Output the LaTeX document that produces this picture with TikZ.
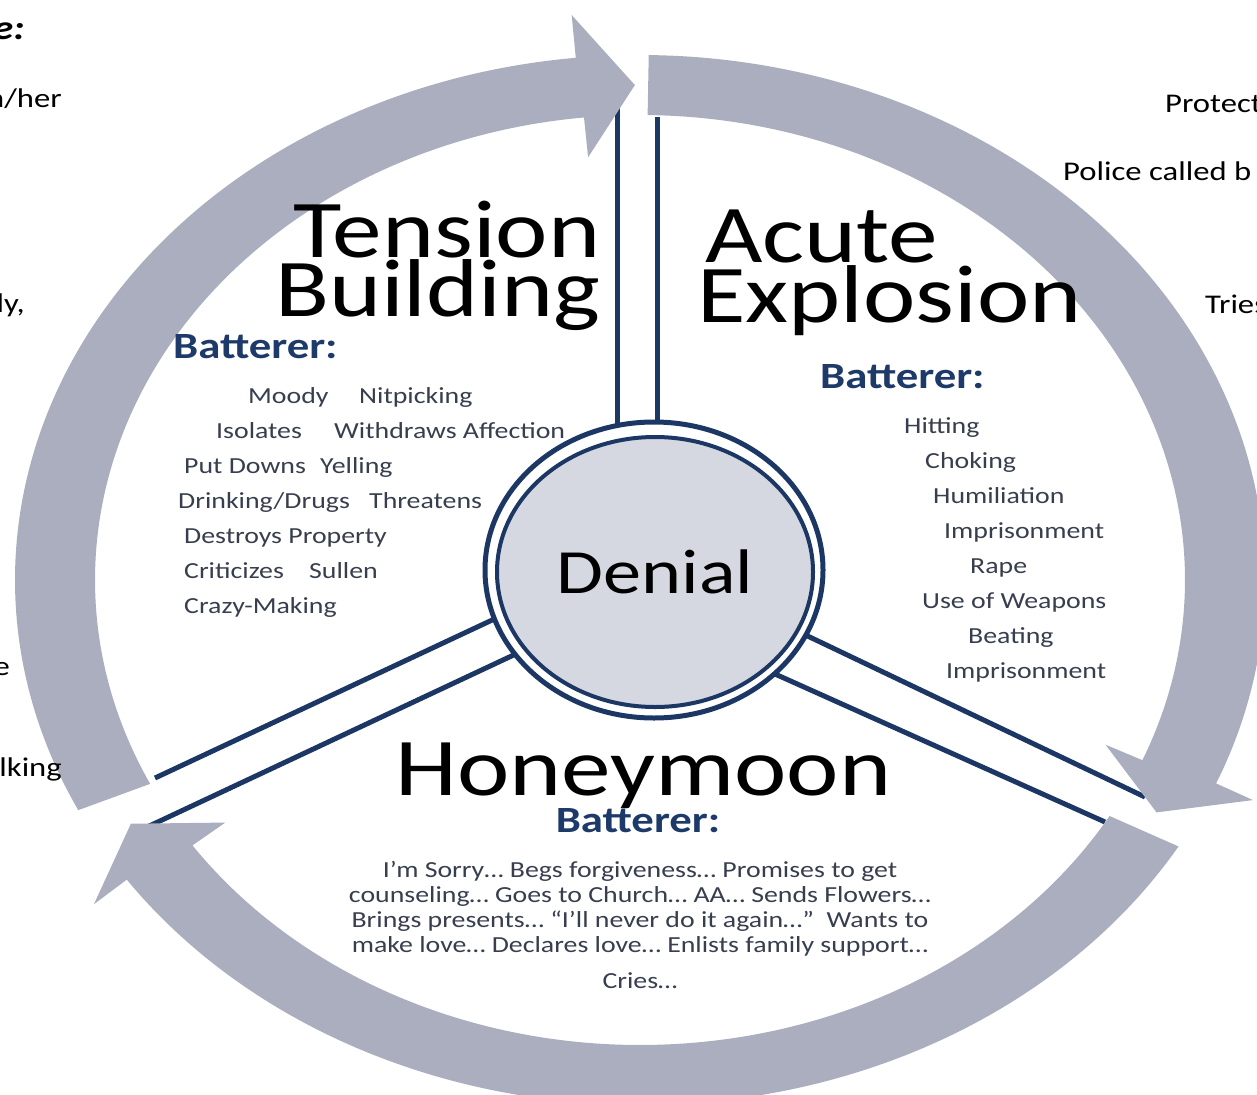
\documentclass[tikz,border=0pt]{standalone}
\usepackage{fontspec}
\setmainfont{Carlito}[FakeStretch=1.21]
\usetikzlibrary{shapes.geometric}

\definecolor{bandgray}{RGB}{170,174,190}
\definecolor{navy}{RGB}{28,55,100}
\definecolor{denialgray}{RGB}{213,216,224}
\definecolor{itemtext}{RGB}{55,62,78}
\definecolor{battblue}{RGB}{30,58,105}

\begin{document}
\begin{tikzpicture}[x=1pt,y=1pt,
    band/.style={fill=bandgray},
    divider/.style={draw=navy,line width=5pt},
    phase/.style={anchor=base west,inner sep=0pt,font=\fontsize{82}{58}\selectfont},
    batterer/.style={inner sep=0pt,text=battblue,font=\fontsize{37}{40}\selectfont\bfseries},
    item/.style={anchor=base west,inner sep=0pt,text=itemtext,font=\fontsize{23}{25}\selectfont},
    side/.style={inner sep=0pt,font=\fontsize{27}{30}\selectfont}]

  \useasboundingbox (0,0) rectangle (1257,-1094);
  % centre of the big cycle
  \coordinate (c) at (640,-580);

  % double lines splitting the three phases
  \coordinate (tb1) at (617,-97);
  \coordinate (tb2) at (617,-440);
  \coordinate (ae1) at (657,-117);
  \coordinate (ae2) at (657,-440);
  \coordinate (hl1) at (155,-778);
  \coordinate (hl2) at (505,-614);
  \coordinate (hl3) at (145,-828);
  \coordinate (hl4) at (520,-652);
  \coordinate (hr1) at (1145,-797);
  \coordinate (hr2) at (795,-630);
  \coordinate (hr3) at (1105,-822);
  \coordinate (hr4) at (775,-674);
  \draw[divider] (tb1) -- (tb2);
  \draw[divider] (ae1) -- (ae2);
  \draw[divider] (hl1) -- (hl2);
  \draw[divider] (hl3) -- (hl4);
  \draw[divider] (hr1) -- (hr2);
  \draw[divider] (hr3) -- (hr4);

  % arrow over the top, into acute explosion
  \fill[band] ([shift={(c)}]206:625 and 525)
      arc[start angle=206, end angle=95.9, x radius=625, y radius=525]
      -- ([shift={(c)}]95.9:665 and 568) -- ([shift={(c)}]90.5:585 and 495)
      -- ([shift={(c)}]95.9:505 and 425) -- ([shift={(c)}]95.9:545 and 465)
      arc[start angle=95.9, end angle=206, x radius=545, y radius=465] -- cycle;
  % arrow down the right side, into honeymoon
  \fill[band] ([shift={(c)}]89.2:625 and 525)
      arc[start angle=89.2, end angle=-22.8, x radius=625, y radius=525]
      -- ([shift={(c)}]-22.8:665 and 568) -- ([shift={(c)}]-28:585 and 495)
      -- ([shift={(c)}]-22.8:505 and 425) -- ([shift={(c)}]-22.8:545 and 465)
      arc[start angle=-22.8, end angle=89.2, x radius=545, y radius=465] -- cycle;
  % arrow along the bottom, back to tension building
  \fill[band] ([shift={(c)}]-30.5:625 and 525)
      arc[start angle=-30.5, end angle=-145.2, x radius=625, y radius=525]
      -- ([shift={(c)}]-145.2:665 and 568) -- ([shift={(c)}]-150.5:585 and 495)
      -- ([shift={(c)}]-145.2:505 and 425) -- ([shift={(c)}]-145.2:545 and 465)
      arc[start angle=-145.2, end angle=-30.5, x radius=545, y radius=465] -- cycle;

  % denial in the middle, double ring
  \node[ellipse,draw=navy,line width=5pt,fill=white,minimum width=338pt,minimum height=296pt] (ring) at (654,-570) {};
  \node[ellipse,draw=navy,line width=4pt,fill=denialgray,minimum width=316pt,minimum height=270pt,
        font=\fontsize{63}{70}\selectfont] (denial) at (655,-572) {Denial};

  % phase names
  \node[phase] (tension) at (293,-257) {Tension};
  \node[phase] (building) at (275,-316) {Building};
  \node[phase] (acute) at (705,-262) {Acute};
  \node[phase] (explosion) at (697,-322) {Explosion};
  \node[phase] (honeymoon) at (395,-795) {Honeymoon};

  % batterer headings
  \node[batterer,anchor=base west] (battl) at (173,-358) {Batterer:};
  \node[batterer,anchor=base west] (battr) at (820,-388) {Batterer:};
  \node[batterer,anchor=base] (battb) at (638,-832) {Batterer:};

  % tension building list
  \foreach \x/\y/\t [count=\i] in {248/403/Moody, 359/403/Nitpicking,
      216/438/Isolates, 334/438/Withdraws Affection,
      184/473/Put Downs, 320/473/Yelling,
      178/508/{Drinking/Drugs}, 369/508/Threatens,
      184/543/Destroys Property,
      184/578/Criticizes, 309/578/Sullen,
      184/613/Crazy-Making}
    \node[item] (tb-\i) at (\x,-\y) {\t};

  % acute explosion list
  \foreach \x/\y/\t [count=\i] in {904/433/Hitting, 925/468/Choking,
      933/503/Humiliation, 944/538/Imprisonment, 970/573/Rape,
      922/608/Use of Weapons, 968/643/Beating, 946/678/Imprisonment}
    \node[item] (ae-\i) at (\x,-\y) {\t};

  % honeymoon text
  \foreach \y/\t [count=\i] in {877/{I’m Sorry… Begs forgiveness… Promises to get},
      902/{counseling… Goes to Church… AA… Sends Flowers…},
      927/{Brings presents… “I’ll never do it again…”\ \ Wants to},
      952/{make love… Declares love… Enlists family support…},
      988/{Cries…}}
    \node[item,anchor=base] (hm-\i) at (640,-\y) {\t};

  % text running off the edges
  \node[side,anchor=base east,font=\fontsize{34}{40}\selectfont\bfseries\itshape] (ledge1) at (25,-40) {e:};
  \node[side,anchor=base east] (ledge2) at (62,-108) {n/her};
  \node[side,anchor=base east] (ledge3) at (25,-312) {ly,};
  \node[side,anchor=base east] (ledge4) at (10,-675) {e};
  \node[side,anchor=base east] (ledge5) at (62,-776) {lking};
  \node[side,anchor=base west] (redge1) at (1165,-113) {Protect};
  \node[side,anchor=base west] (redge2) at (1063,-180) {Police called b};
  \node[side,anchor=base west] (redge3) at (1205,-313) {Tries};
\end{tikzpicture}
\end{document}
